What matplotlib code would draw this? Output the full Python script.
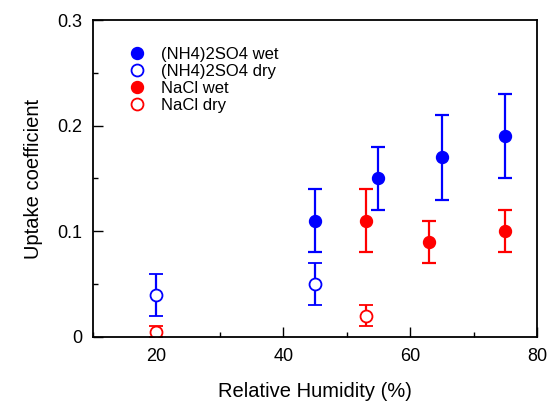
import matplotlib
matplotlib.use("Agg")
import matplotlib.pyplot as plt
from matplotlib.ticker import MultipleLocator

plt.rcParams['font.family'] = ['Liberation Sans', 'DejaVu Sans']

nh4_wet_x = [45, 55, 65, 75]
nh4_wet_y = [0.11, 0.15, 0.17, 0.19]
nh4_wet_err = [0.03, 0.03, 0.04, 0.04]

nh4_dry_x = [20, 45]
nh4_dry_y = [0.04, 0.05]
nh4_dry_err = [0.02, 0.02]

nacl_wet_x = [53, 63, 75]
nacl_wet_y = [0.11, 0.09, 0.10]
nacl_wet_err = [0.03, 0.02, 0.02]

nacl_dry_x = [20, 53]
nacl_dry_y = [0.005, 0.02]
nacl_dry_err = [0.005, 0.01]

labels = ['(NH4)2SO4 wet', '(NH4)2SO4 dry', 'NaCl wet', 'NaCl dry']

fig = plt.figure(figsize=(5.55, 4.05), dpi=100)
ax = fig.add_axes([0.1676, 0.168, 0.80, 0.7826])

blue = '#0000ff'
red = '#ff0000'
kw = dict(linestyle='none', marker='o', markersize=8.6, elinewidth=1.6, capsize=4.7, capthick=1.6)

ax.errorbar(nh4_wet_x, nh4_wet_y, yerr=nh4_wet_err, color=blue, mfc=blue, mec=blue, label=labels[0], **kw)
ax.errorbar(nh4_dry_x, nh4_dry_y, yerr=nh4_dry_err, color=blue, mfc='white', mec=blue, mew=1.3, label=labels[1], **kw)
ax.errorbar(nacl_wet_x, nacl_wet_y, yerr=nacl_wet_err, color=red, mfc=red, mec=red, label=labels[2], **kw)
ax.errorbar(nacl_dry_x, nacl_dry_y, yerr=nacl_dry_err, color=red, mfc='white', mec=red, mew=1.3, label=labels[3], **kw)

ax.set_xlim(10, 80)
ax.set_ylim(0, 0.3)
ax.xaxis.set_major_locator(MultipleLocator(20))
ax.xaxis.set_minor_locator(MultipleLocator(10))
ax.yaxis.set_major_locator(MultipleLocator(0.1))
ax.yaxis.set_minor_locator(MultipleLocator(0.05))
ax.yaxis.set_major_formatter(matplotlib.ticker.FuncFormatter(lambda v, p: '0' if abs(v) < 1e-9 else f'{v:.1f}'))
ax.tick_params(which='both', direction='in', top=False, right=False, labelsize=13, pad=8)
ax.tick_params(which='major', length=7.2, width=1)
ax.tick_params(which='minor', length=3.6, width=1)
for s in ax.spines.values():
    s.set_linewidth(1.3)

ax.set_xlabel('Relative Humidity (%)', fontsize=14.5, labelpad=12)
ax.set_ylabel('Uptake coefficient', fontsize=14.5, labelpad=10)

handles, labs = ax.get_legend_handles_labels()
handles = [h[0] for h in handles]
leg = ax.legend(handles, labs, loc='upper left', bbox_to_anchor=(0.065, 0.935), frameon=False,
                fontsize=12, handletextpad=0.95, labelspacing=0.12, handlelength=1.0, borderaxespad=0)

fig.savefig('out.png', dpi=100)
